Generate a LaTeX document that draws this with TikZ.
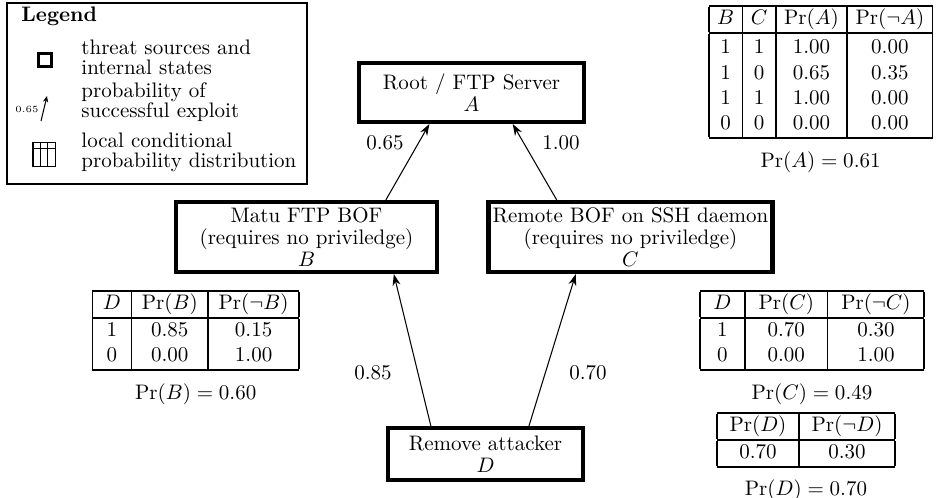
\documentclass[tikz,border=0pt]{standalone}
\usetikzlibrary{arrows.meta,calc}
\setlength{\arrayrulewidth}{0.8pt}
\begin{document}
\begin{tikzpicture}[x=0.4762pt,y=-0.4762pt,
  state/.style={draw, line width=2pt, align=center, inner sep=2pt, font=\fontsize{10}{10.4}\selectfont},
  arr/.style={-{Stealth[length=5.5pt,width=3.8pt]}, line width=0.5pt},
  lbl/.style={inner sep=1pt},
  legtext/.style={anchor=west, align=left, inner sep=0pt, font=\fontsize{10}{9.6}\selectfont},
  tbl/.style={inner sep=0pt},
]
\useasboundingbox (0,0) rectangle (939,498);

% legend
\node[draw, line width=1pt, minimum width=143pt, minimum height=86pt, anchor=north west, inner sep=0pt] (legend) at (6,2) {};
\node[anchor=west, font=\bfseries, inner sep=0pt] (legtitle) at (21,16) {Legend};
\node[draw, line width=1.2pt, minimum size=6.3pt, inner sep=0pt] (legsq) at (45,60) {};
\node[legtext] (legt1) at (81,57) {threat sources and\\internal states};
\coordinate (legarrA) at (41,121);
\coordinate (legarrB) at (47,96);
\draw[-{Stealth[length=3pt,width=2.5pt]}, line width=0.5pt] (legarrA) -- (legarrB);
\node[font=\fontsize{4.5}{5}\selectfont, inner sep=0pt] (leg065) at (27,109) {0.65};
\node[legtext] (legt2) at (81,102) {probability of\\successful exploit};
\node[draw, line width=0.5pt, minimum width=10.5pt, minimum height=11pt, inner sep=0pt] (leggrid) at (44,154.5) {};
\draw[line width=0.5pt] ($(leggrid.north west)!0.333!(leggrid.north east)$) -- ($(leggrid.south west)!0.333!(leggrid.south east)$);
\draw[line width=0.5pt] ($(leggrid.north west)!0.667!(leggrid.north east)$) -- ($(leggrid.south west)!0.667!(leggrid.south east)$);
\draw[line width=0.5pt] ($(leggrid.north west)!0.25!(leggrid.south west)$) -- ($(leggrid.north east)!0.25!(leggrid.south east)$);
\node[legtext] (legt3) at (81,152) {local conditional\\probability distribution};

% states
\node[state, minimum width=107pt, minimum height=28pt] (A) at (471.5,92.5) {Root / FTP Server\\$A$};
\node[state, minimum width=124pt, minimum height=33.3pt] (B) at (306.5,237) {Matu FTP BOF\\(requires no priviledge)\\$B$};
\node[state, minimum width=131pt, minimum height=33.3pt] (C) at (630.5,237) {Remote BOF on SSH daemon\\(requires no priviledge)\\$C$};
\node[state, minimum width=93pt, minimum height=24.8pt] (D) at (485.5,454) {Remove attacker\\$D$};

% connectors
\draw[arr] ($(B.north west)!0.80!(B.north east)$) -- ($(A.south west)!0.316!(A.south east)$);
\draw[arr] ($(C.north west)!0.244!(C.north east)$) -- ($(A.south west)!0.68!(A.south east)$);
\draw[arr] ($(D.north west)!0.226!(D.north east)$) -- ($(B.south west)!0.83!(B.south east)$);
\draw[arr] ($(D.north west)!0.718!(D.north east)$) -- ($(C.south west)!0.31!(C.south east)$);

\node[lbl] (l065) at (385,143) {0.65};
\node[lbl] (l100) at (561,143) {1.00};
\node[lbl] (l085) at (373,373) {0.85};
\node[lbl] (l070) at (588,373) {0.70};

% tables
\node[tbl, anchor=north east] (tA) at (933,5) {\setlength{\tabcolsep}{4pt}\begin{tabular}{|c|c|c|c|}\hline
$B$ & $C$ & $\Pr(A)$ & $\Pr(\neg A)$\\\hline
\rule{0pt}{9.5pt}1 & 1 & 1.00 & 0.00\\
1 & 0 & 0.65 & 0.35\\
1 & 1 & 1.00 & 0.00\\
0 & 0 & 0.00 & 0.00\\\hline
\end{tabular}};
\node[lbl] (cA) at ($(tA.south)+(0,23)$) {$\Pr(A) = 0.61$};

\node[tbl, anchor=north west] (tB) at (92,290) {\setlength{\tabcolsep}{5pt}\begin{tabular}{|c|c|c|}\hline
$D$ & $\Pr(B)$ & $\Pr(\neg B)$\\\hline
1 & 0.85 & 0.15\\
0 & 0.00 & 1.00\\\hline
\end{tabular}};
\node[lbl] (cB) at ($(tB.south)+(0,23)$) {$\Pr(B) = 0.60$};

\node[tbl, anchor=north] (tC) at (812,290) {\setlength{\tabcolsep}{6.5pt}\begin{tabular}{|c|c|c|}\hline
$D$ & $\Pr(C)$ & $\Pr(\neg C)$\\\hline
1 & 0.70 & 0.30\\
0 & 0.00 & 1.00\\\hline
\end{tabular}};
\node[lbl] (cC) at ($(tC.south)+(0,23)$) {$\Pr(C) = 0.49$};

\node[tbl, anchor=north] (tD) at (806,412) {\begin{tabular}{|c|c|}\hline
$\Pr(D)$ & $\Pr(\neg D)$\\\hline
0.70 & 0.30\\\hline
\end{tabular}};
\node[lbl] (cD) at ($(tD.south)+(0,22)$) {$\Pr(D) = 0.70$};
\end{tikzpicture}
\end{document}
